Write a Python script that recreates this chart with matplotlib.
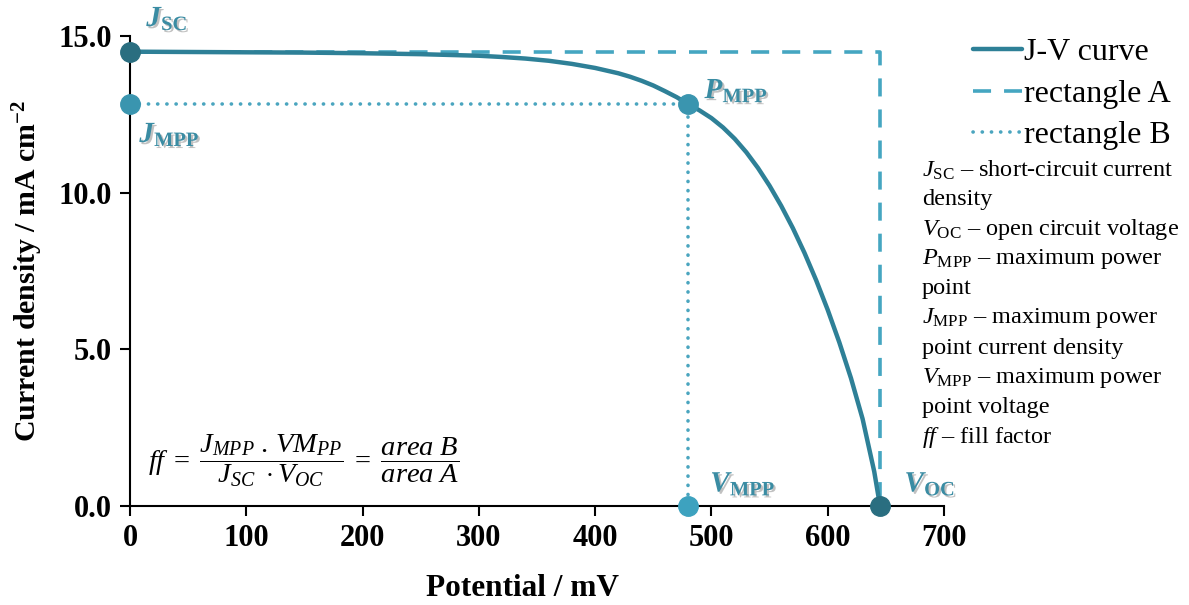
import matplotlib
matplotlib.use("Agg")
import matplotlib.pyplot as plt
import matplotlib.patheffects as pe

plt.rcParams['font.family'] = ['Liberation Serif', 'DejaVu Serif']
plt.rcParams['mathtext.fontset'] = 'custom'
plt.rcParams['mathtext.rm'] = 'Liberation Serif'
plt.rcParams['mathtext.it'] = 'Liberation Serif:italic'
plt.rcParams['mathtext.bf'] = 'Liberation Serif:bold'
plt.rcParams['mathtext.bfit'] = 'Liberation Serif:italic:bold'

# ---- data ----
voltage_mV = [0, 50, 100, 150, 200, 250, 300, 320, 340, 360, 380, 400, 420, 430,
              440, 450, 460, 470, 480, 490, 500, 510, 520, 530, 540, 550, 560,
              570, 580, 590, 600, 610, 620, 630, 640, 645]
current_mA = [14.50, 14.49, 14.48, 14.47, 14.45, 14.42, 14.37, 14.33, 14.28, 14.21,
              14.11, 13.98, 13.81, 13.70, 13.57, 13.42, 13.24, 13.05, 12.83, 12.62,
              12.38, 12.08, 11.72, 11.29, 10.79, 10.22, 9.58, 8.87, 8.08, 7.21,
              6.26, 5.22, 4.08, 2.78, 1.10, 0.0]
J_sc = 14.5
V_oc = 645
J_mpp = 12.83
V_mpp = 480
x_ticks = [0, 100, 200, 300, 400, 500, 600, 700]
y_ticks = [0, 5, 10, 15]
legend_labels = ["J-V curve", "rectangle A", "rectangle B"]
glossary = [
    r"$J_{\mathrm{SC}}$ – short-circuit current",
    "density",
    r"$V_{\mathrm{OC}}$ – open circuit voltage",
    r"$P_{\mathrm{MPP}}$ – maximum power",
    "point",
    r"$J_{\mathrm{MPP}}$ – maximum power",
    "point current density",
    r"$V_{\mathrm{MPP}}$ – maximum power",
    "point voltage",
    r"$ff$ – fill factor",
]

c_curve = "#2E8097"
c_rectA = "#45A6C1"
c_rectB = "#4AA5BF"
c_dark = "#2A6E80"
c_mid = "#3A95AF"

fig = plt.figure(figsize=(11.89, 6.05), dpi=100)
ax = fig.add_axes([130/1189, 1-506/605, (944-130)/1189, (506-36)/605])

l_curve, = ax.plot(voltage_mV, current_mA, color=c_curve, lw=3.2, zorder=3,
                   solid_capstyle='round', solid_joinstyle='round')
l_A, = ax.plot([0, V_oc, V_oc], [J_sc, J_sc, 0], color=c_rectA, lw=2.6,
               linestyle=(0, (5, 3.6)), zorder=2)
l_B, = ax.plot([0, V_mpp, V_mpp], [J_mpp, J_mpp, 0], color=c_rectB, lw=2.6,
               linestyle=(0, (0.05, 2.5)), dash_capstyle='round', zorder=2)

ms = 14
ax.plot([0], [J_sc], 'o', color=c_dark, ms=ms, clip_on=False, zorder=5)
ax.plot([0], [J_mpp], 'o', color=c_mid, ms=ms, clip_on=False, zorder=5)
ax.plot([V_mpp], [J_mpp], 'o', color=c_mid, ms=ms, clip_on=False, zorder=5)
ax.plot([V_mpp], [0], 'o', color="#3DA2BF", ms=ms, clip_on=False, zorder=5)
ax.plot([V_oc], [0], 'o', color=c_dark, ms=ms, clip_on=False, zorder=5)

shadow = [pe.withSimplePatchShadow(offset=(1.5, -1.5), shadow_rgbFace='#666666', alpha=0.4)]
lab_kw = dict(fontsize=21, color="#3A8CA3", path_effects=shadow, zorder=6)
ax.text(14, 15.55, r"$\mathbfit{J}_{\mathbf{SC}}$", va='center', ha='left', **lab_kw)
ax.text(8, 11.85, r"$\mathbfit{J}_{\mathbf{MPP}}$", va='center', ha='left', **lab_kw)
ax.text(494, 13.25, r"$\mathbfit{P}_{\mathbf{MPP}}$", va='center', ha='left', **lab_kw)
ax.text(499, 0.7, r"$\mathbfit{V}_{\mathbf{MPP}}$", va='center', ha='left', **lab_kw)
ax.text(666, 0.7, r"$\mathbfit{V}_{\mathbf{OC}}$", va='center', ha='left', **lab_kw)

ax.text(149, 1.45,
        r"$ff\;=\;\dfrac{J_{MPP}\ .\,VM_{PP}}{J_{SC}\ \cdot V_{OC}}\;=\;\dfrac{area\ B}{area\ A}$",
        fontsize=20.5, ha='center', va='center', color='black')

ax.set_xlim(0, 700)
ax.set_ylim(0, 15)
ax.set_xticks(x_ticks)
ax.set_xticklabels([str(v) for v in x_ticks])
ax.set_yticks(y_ticks)
ax.set_yticklabels([f"{v:.1f}" for v in y_ticks])
for s in ['top', 'right']:
    ax.spines[s].set_visible(False)
for s in ['left', 'bottom']:
    ax.spines[s].set_linewidth(1.5)
ax.tick_params(direction='out', length=7, width=1.5, labelsize=22, pad=6)
for lbl in ax.get_xticklabels() + ax.get_yticklabels():
    lbl.set_fontweight('bold')

ax.set_xlabel("Potential / mV", fontsize=22.5, fontweight='bold')
ax.set_ylabel(r"Current density / mA cm$^{\mathbf{-2}}$", fontsize=21.5,
              fontweight='bold')
ax.xaxis.set_label_coords((523-130)/814, (506-574)/470)
ax.yaxis.set_label_coords((45-130)/814, 0.5)

fig.legend([l_curve, l_A, l_B], legend_labels, loc='upper left',
           bbox_to_anchor=(957/1189, 1-22/605), frameon=False, fontsize=23,
           handlelength=1.55, handletextpad=0.05, labelspacing=0.38, borderpad=0)

for i, line in enumerate(glossary):
    y = 170 + i * 29.7
    fig.text(922/1189, 1 - y/605, line, fontsize=17.5, ha='left', va='center')

fig.savefig("out.png", dpi=100)
